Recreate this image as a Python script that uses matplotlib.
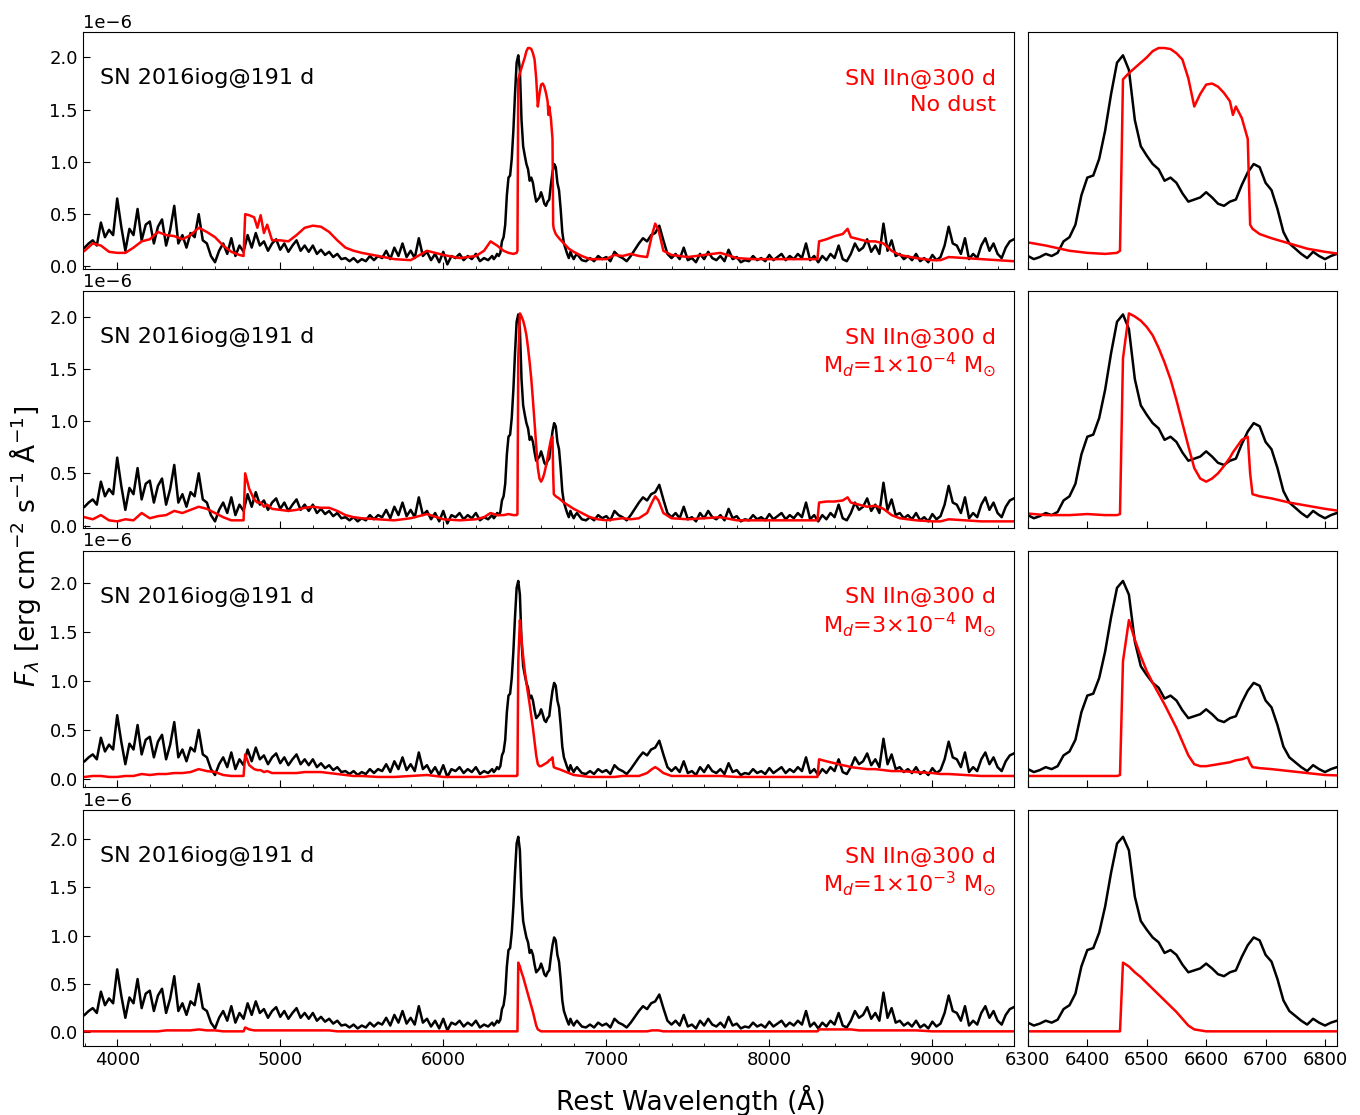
import numpy as np
import matplotlib.pyplot as plt
from matplotlib.ticker import MultipleLocator

# observed spectrum of SN 2016iog at 191 d (flux in units of 1e-6)
wl_obs_blue = np.arange(3800, 6300, 25)
flux_obs_blue = [
    0.18, 0.22, 0.25, 0.20, 0.42, 0.28, 0.35, 0.30, 0.65, 0.38,
    0.15, 0.36, 0.30, 0.55, 0.25, 0.40, 0.43, 0.22, 0.38, 0.45,
    0.20, 0.35, 0.58, 0.22, 0.30, 0.18, 0.32, 0.28, 0.50, 0.25,
    0.22, 0.10, 0.04, 0.15, 0.22, 0.12, 0.27, 0.10, 0.20, 0.14,
    0.30, 0.18, 0.32, 0.20, 0.24, 0.15, 0.22, 0.26, 0.16, 0.22,
    0.14, 0.20, 0.25, 0.15, 0.20, 0.14, 0.20, 0.12, 0.16, 0.11,
    0.14, 0.09, 0.12, 0.07, 0.08, 0.05, 0.08, 0.04, 0.07, 0.05,
    0.10, 0.06, 0.10, 0.08, 0.15, 0.07, 0.18, 0.10, 0.22, 0.09,
    0.15, 0.08, 0.27, 0.10, 0.14, 0.06, 0.12, 0.04, 0.14, 0.02,
    0.10, 0.08, 0.12, 0.06, 0.10, 0.07, 0.12, 0.05, 0.08, 0.06,
]
wl_obs_ha = np.arange(6300, 6830, 10)
flux_obs_ha = [
    0.10, 0.07, 0.09, 0.12, 0.10, 0.13, 0.24, 0.28, 0.40, 0.68,
    0.85, 0.87, 1.03, 1.30, 1.65, 1.95, 2.02, 1.88, 1.40, 1.15,
    1.06, 0.98, 0.93, 0.82, 0.85, 0.80, 0.70, 0.62, 0.64, 0.66,
    0.71, 0.66, 0.60, 0.58, 0.62, 0.64, 0.78, 0.90, 0.98, 0.95,
    0.80, 0.73, 0.55, 0.33, 0.22, 0.17, 0.12, 0.08, 0.14, 0.10,
    0.07, 0.10, 0.12,
]
wl_obs_red = np.arange(6850, 9525, 25)
flux_obs_red = [
    0.06, 0.05, 0.08, 0.05, 0.10, 0.07, 0.09, 0.05, 0.14, 0.10,
    0.08, 0.05, 0.10, 0.16, 0.22, 0.27, 0.24, 0.30, 0.32, 0.39,
    0.25, 0.12, 0.08, 0.12, 0.07, 0.18, 0.06, 0.08, 0.04, 0.12,
    0.07, 0.14, 0.08, 0.06, 0.10, 0.05, 0.16, 0.07, 0.09, 0.04,
    0.06, 0.05, 0.10, 0.06, 0.08, 0.05, 0.11, 0.06, 0.09, 0.12,
    0.06, 0.10, 0.07, 0.12, 0.08, 0.22, 0.06, 0.10, 0.04, 0.10,
    0.06, 0.12, 0.08, 0.20, 0.07, 0.05, 0.12, 0.22, 0.15, 0.18,
    0.26, 0.14, 0.20, 0.12, 0.41, 0.15, 0.25, 0.10, 0.12, 0.07,
    0.10, 0.06, 0.12, 0.05, 0.08, 0.04, 0.11, 0.06, 0.09, 0.20,
    0.38, 0.22, 0.20, 0.12, 0.27, 0.07, 0.12, 0.08, 0.20, 0.27,
    0.15, 0.22, 0.12, 0.08, 0.18, 0.24, 0.26,
]

# SN IIn model at 300 d, wavelength grid shared by all dust masses
wl_model = [
    3800, 3850, 3900, 3950, 4000, 4050, 4100, 4150, 4200, 4250,
    4300, 4350, 4400, 4450, 4500, 4550, 4600, 4650, 4700, 4750,
    4775, 4785, 4810, 4840, 4860, 4880, 4900, 4920, 4950, 5000,
    5050, 5100, 5150, 5200, 5250, 5300, 5350, 5400, 5450, 5500,
    5600, 5700, 5800, 5900, 6000, 6100, 6200, 6250, 6290, 6330,
    6370, 6400, 6430, 6450, 6455, 6460, 6470, 6480, 6490, 6500,
    6510, 6520, 6530, 6540, 6550, 6560, 6570, 6580, 6590, 6600,
    6610, 6620, 6630, 6640, 6645, 6650, 6660, 6670, 6674, 6678,
    6690, 6710, 6740, 6770, 6800, 6850, 6900, 6950, 7000, 7050,
    7100, 7150, 7200, 7250, 7280, 7300, 7320, 7350, 7400, 7500,
    7600, 7700, 7800, 7900, 8000, 8100, 8200, 8295, 8305, 8350,
    8400, 8450, 8480, 8500, 8550, 8600, 8650, 8700, 8750, 8800,
    8900, 9000, 9050, 9100, 9200, 9300, 9400, 9500,
]
flux_nodust = [
    0.15, 0.22, 0.20, 0.14, 0.13, 0.13, 0.18, 0.24, 0.26, 0.33,
    0.30, 0.29, 0.26, 0.30, 0.37, 0.33, 0.28, 0.20, 0.14, 0.11,
    0.10, 0.50, 0.49, 0.47, 0.37, 0.49, 0.32, 0.40, 0.25, 0.25,
    0.24, 0.30, 0.37, 0.39, 0.38, 0.33, 0.25, 0.18, 0.15, 0.13,
    0.10, 0.07, 0.06, 0.15, 0.11, 0.08, 0.10, 0.15, 0.24, 0.20,
    0.15, 0.13, 0.12, 0.13, 0.15, 1.79, 1.85, 1.90, 1.95, 2.00,
    2.06, 2.09, 2.09, 2.08, 2.04, 1.98, 1.80, 1.53, 1.65, 1.74,
    1.75, 1.72, 1.66, 1.58, 1.45, 1.53, 1.42, 1.22, 0.40, 0.36,
    0.31, 0.27, 0.22, 0.17, 0.14, 0.10, 0.07, 0.07, 0.07, 0.11,
    0.10, 0.12, 0.10, 0.09, 0.30, 0.41, 0.35, 0.15, 0.11, 0.09,
    0.11, 0.13, 0.08, 0.07, 0.07, 0.07, 0.07, 0.07, 0.24, 0.26,
    0.29, 0.31, 0.36, 0.28, 0.26, 0.24, 0.24, 0.22, 0.15, 0.11,
    0.08, 0.06, 0.06, 0.09, 0.08, 0.07, 0.06, 0.05,
]
flux_md1e4 = [
    0.08, 0.06, 0.10, 0.05, 0.04, 0.06, 0.05, 0.12, 0.07, 0.09,
    0.10, 0.14, 0.12, 0.15, 0.18, 0.16, 0.12, 0.08, 0.05, 0.05,
    0.05, 0.50, 0.35, 0.25, 0.22, 0.22, 0.18, 0.20, 0.16, 0.15,
    0.14, 0.15, 0.17, 0.18, 0.17, 0.17, 0.14, 0.10, 0.08, 0.07,
    0.06, 0.05, 0.07, 0.11, 0.06, 0.05, 0.06, 0.08, 0.12, 0.10,
    0.10, 0.11, 0.10, 0.10, 0.11, 1.60, 2.03, 2.00, 1.96, 1.90,
    1.82, 1.70, 1.56, 1.40, 1.20, 0.98, 0.76, 0.55, 0.45, 0.42,
    0.45, 0.50, 0.57, 0.65, 0.70, 0.74, 0.82, 0.85, 0.50, 0.30,
    0.28, 0.26, 0.22, 0.19, 0.16, 0.12, 0.08, 0.06, 0.05, 0.06,
    0.07, 0.06, 0.07, 0.12, 0.22, 0.28, 0.24, 0.12, 0.07, 0.06,
    0.07, 0.08, 0.05, 0.05, 0.05, 0.05, 0.05, 0.05, 0.22, 0.23,
    0.23, 0.24, 0.27, 0.22, 0.20, 0.18, 0.19, 0.16, 0.10, 0.07,
    0.05, 0.04, 0.04, 0.06, 0.05, 0.04, 0.04, 0.04,
]
flux_md3e4 = [
    0.02, 0.03, 0.03, 0.02, 0.02, 0.03, 0.03, 0.05, 0.04, 0.05,
    0.05, 0.06, 0.06, 0.07, 0.10, 0.08, 0.07, 0.04, 0.03, 0.03,
    0.03, 0.25, 0.14, 0.10, 0.09, 0.09, 0.07, 0.08, 0.06, 0.06,
    0.06, 0.06, 0.07, 0.07, 0.07, 0.06, 0.05, 0.04, 0.03, 0.03,
    0.02, 0.02, 0.03, 0.04, 0.02, 0.02, 0.02, 0.02, 0.03, 0.03,
    0.03, 0.03, 0.03, 0.03, 0.04, 1.20, 1.62, 1.42, 1.25, 1.10,
    0.98, 0.87, 0.76, 0.64, 0.52, 0.38, 0.24, 0.15, 0.13, 0.13,
    0.14, 0.15, 0.16, 0.17, 0.18, 0.19, 0.20, 0.22, 0.16, 0.12,
    0.11, 0.10, 0.08, 0.06, 0.04, 0.03, 0.02, 0.02, 0.02, 0.02,
    0.03, 0.03, 0.03, 0.06, 0.10, 0.12, 0.10, 0.06, 0.03, 0.03,
    0.03, 0.03, 0.02, 0.02, 0.02, 0.02, 0.02, 0.02, 0.20, 0.18,
    0.16, 0.14, 0.13, 0.12, 0.11, 0.10, 0.10, 0.09, 0.08, 0.08,
    0.07, 0.06, 0.05, 0.05, 0.04, 0.03, 0.03, 0.03,
]
flux_md1e3 = [
    0.01, 0.01, 0.01, 0.01, 0.01, 0.01, 0.01, 0.01, 0.01, 0.01,
    0.02, 0.02, 0.02, 0.02, 0.03, 0.02, 0.02, 0.01, 0.01, 0.01,
    0.01, 0.05, 0.03, 0.02, 0.02, 0.02, 0.02, 0.02, 0.02, 0.02,
    0.02, 0.02, 0.02, 0.02, 0.02, 0.02, 0.01, 0.01, 0.01, 0.01,
    0.01, 0.01, 0.01, 0.01, 0.01, 0.01, 0.01, 0.01, 0.01, 0.01,
    0.01, 0.01, 0.01, 0.01, 0.01, 0.72, 0.68, 0.62, 0.57, 0.51,
    0.45, 0.39, 0.33, 0.27, 0.21, 0.14, 0.07, 0.03, 0.02, 0.01,
    0.01, 0.01, 0.01, 0.01, 0.01, 0.01, 0.01, 0.01, 0.01, 0.01,
    0.01, 0.01, 0.01, 0.01, 0.01, 0.01, 0.01, 0.01, 0.01, 0.01,
    0.01, 0.01, 0.01, 0.01, 0.02, 0.02, 0.02, 0.01, 0.01, 0.01,
    0.01, 0.01, 0.01, 0.01, 0.01, 0.01, 0.01, 0.01, 0.03, 0.03,
    0.03, 0.03, 0.03, 0.03, 0.02, 0.02, 0.02, 0.02, 0.02, 0.02,
    0.02, 0.01, 0.01, 0.01, 0.01, 0.01, 0.01, 0.01,
]

model_fluxes = [flux_nodust, flux_md1e4, flux_md3e4, flux_md1e3]
model_line2 = [
    'No dust',
    'M$_d$=1$\\times$10$^{-4}$ M$_{\\odot}$',
    'M$_d$=3$\\times$10$^{-4}$ M$_{\\odot}$',
    'M$_d$=1$\\times$10$^{-3}$ M$_{\\odot}$',
]
row_ylims = [(-0.02, 2.24), (-0.02, 2.24), (-0.08, 2.33), (-0.14, 2.30)]

wl_obs = np.concatenate([wl_obs_blue, wl_obs_ha, wl_obs_red])
flux_obs = np.concatenate([flux_obs_blue, flux_obs_ha, flux_obs_red]) * 1e-6

fig, axes = plt.subplots(4, 2, figsize=(13.6, 11.15), dpi=100,
                         sharex='col', sharey='row',
                         gridspec_kw=dict(width_ratios=[931, 309]))
fig.subplots_adjust(left=0.061, right=0.983, top=0.971, bottom=0.062,
                    wspace=0.0226, hspace=0.097)

for i in range(4):
    ax, axr = axes[i]
    mflux = np.array(model_fluxes[i]) * 1e-6
    for a in (ax, axr):
        a.plot(wl_obs, flux_obs, color='black', lw=1.8)
        a.plot(wl_model, mflux, color='red', lw=1.8)
        a.tick_params(which='both', direction='in', top=False, right=False, labelsize=13)
        a.tick_params(which='major', length=5)
        a.tick_params(which='minor', length=2.5)

    ax.set_xlim(3790, 9500)
    ax.set_ylim(row_ylims[i][0] * 1e-6, row_ylims[i][1] * 1e-6)
    ax.xaxis.set_major_locator(MultipleLocator(1000))
    ax.xaxis.set_minor_locator(MultipleLocator(200))
    ax.yaxis.set_major_locator(MultipleLocator(0.5e-6))
    ax.yaxis.get_offset_text().set_fontsize(13)

    axr.set_xlim(6300, 6820)
    axr.xaxis.set_major_locator(MultipleLocator(100))
    axr.tick_params(left=False, labelleft=False)
    axr.yaxis.get_offset_text().set_visible(False)

    ax.text(0.018, 0.78, 'SN 2016iog@191 d', transform=ax.transAxes,
            fontsize=16, ha='left', va='baseline')
    ax.text(0.981, 0.776, 'SN IIn@300 d', transform=ax.transAxes,
            fontsize=16, color='red', ha='right', va='baseline')
    ax.text(0.981, 0.667 if i == 0 else 0.655, model_line2[i], transform=ax.transAxes,
            fontsize=16, color='red', ha='right', va='baseline')

fig.text(0.0184, 0.51, '$F_\\lambda$ [erg cm$^{-2}$ s$^{-1}$ Å$^{-1}$]',
         rotation=90, ha='center', va='center', fontsize=19)
fig.text(0.508, 0.0126, 'Rest Wavelength (Å)', ha='center', va='center', fontsize=19)

fig.savefig('out.png', dpi=100)
